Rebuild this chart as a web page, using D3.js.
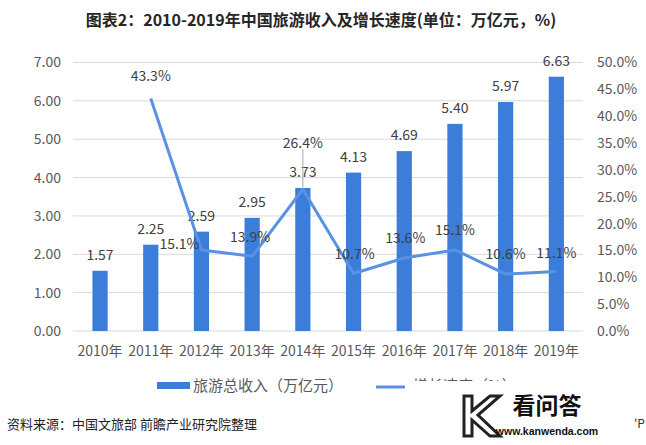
<!DOCTYPE html>
<html><head><meta charset="utf-8">
<script src="https://cdn.jsdelivr.net/npm/d3@7"></script>
<style>
html,body{margin:0;padding:0;background:#fff;}
svg{display:block;font-family:"Noto Sans CJK SC","Noto Sans",sans-serif;}
</style></head>
<body>
<svg id="chart" width="646" height="445"></svg>
<script>
const years = ["2010年","2011年","2012年","2013年","2014年","2015年","2016年","2017年","2018年","2019年"];
const revenue = [1.57,2.25,2.59,2.95,3.73,4.13,4.69,5.40,5.97,6.63];
const growth = [null,43.3,15.1,13.9,26.4,10.7,13.6,15.1,10.6,11.1];
const leftTicks = [0,1,2,3,4,5,6,7];
const rightTicks = [0,5,10,15,20,25,30,35,40,45,50];
const titleText = "图表2：2010-2019年中国旅游收入及增长速度(单位：万亿元，%)";
const legendLabels = ["旅游总收入（万亿元）","增长速度（%）"];
const sourceText = "资料来源：中国文旅部 前瞻产业研究院整理";
// label placement offsets (styling)
const growthLabelOffsets = [[0,0],[0,-22],[-22,-6],[-2,-19],[0,-46],[1,-20],[1,-20],[0,-20],[0,-20],[0,-18]];

const barColor = "#3b7dd8", lineColor = "#5a92e2", gridColor = "#d9d9d9";
const axisText = "#595959", labelText = "#404040";

const svg = d3.select("#chart");
const x = d3.scaleBand().domain(years).range([74.7,581.7]).paddingInner(0.7).paddingOuter(0.35);
const yL = d3.scaleLinear().domain([0,7]).range([331,62.5]);
const yR = d3.scaleLinear().domain([0,50]).range([331,62.5]);
const cx = d => x(d) + x.bandwidth()/2;

// title
svg.append("text").attr("x",321).attr("y",26).attr("text-anchor","middle")
  .attr("font-size",16).attr("font-weight","bold").attr("fill","#262626").text(titleText);

// grid
svg.append("g").selectAll("line").data(leftTicks).join("line")
  .attr("x1",73).attr("x2",583).attr("y1",d=>yL(d)).attr("y2",d=>yL(d))
  .attr("stroke",gridColor).attr("stroke-width",1);

// axes
const gl = svg.append("g").attr("transform","translate(73,0)")
  .call(d3.axisLeft(yL).tickValues(leftTicks).tickSize(0).tickPadding(12).tickFormat(d3.format(".2f")));
const gr = svg.append("g").attr("transform","translate(583,0)")
  .call(d3.axisRight(yR).tickValues(rightTicks).tickSize(0).tickPadding(14).tickFormat(d=>d.toFixed(1)+"%"));
const gb = svg.append("g").attr("transform","translate(0,331)")
  .call(d3.axisBottom(x).tickSize(0).tickPadding(15));
[gl,gr,gb].forEach(g=>{
  g.select(".domain").remove();
  g.selectAll("text").attr("font-size",14).attr("fill",axisText)
   .attr("font-family","'Noto Sans CJK SC','Noto Sans',sans-serif");
});

// bars
svg.append("g").selectAll("rect").data(revenue).join("rect")
  .attr("x",(d,i)=>x(years[i])).attr("width",x.bandwidth())
  .attr("y",d=>yL(d)).attr("height",d=>yL(0)-yL(d)).attr("fill",barColor);

// bar labels
svg.append("g").selectAll("text").data(revenue).join("text")
  .attr("x",(d,i)=>cx(years[i])).attr("y",d=>yL(d)-11)
  .attr("text-anchor","middle").attr("font-size",14).attr("fill",labelText)
  .text(d=>d.toFixed(2));

// line
const pts = growth.map((g,i)=>({g,i})).filter(p=>p.g!==null);
svg.append("path").datum(pts)
  .attr("d",d3.line().x(p=>cx(years[p.i])).y(p=>yR(p.g)))
  .attr("fill","none").attr("stroke",lineColor).attr("stroke-width",3).attr("stroke-linejoin","round");

// leader line for 2014
const li = 4;
svg.append("line").attr("x1",cx(years[li])).attr("x2",cx(years[li]))
  .attr("y1",yR(growth[li])+growthLabelOffsets[li][1]+6).attr("y2",yR(growth[li])-2)
  .attr("stroke","#a6a6a6").attr("stroke-width",1);

// growth labels
svg.append("g").selectAll("text").data(pts).join("text")
  .attr("x",p=>cx(years[p.i])+growthLabelOffsets[p.i][0])
  .attr("y",p=>yR(p.g)+growthLabelOffsets[p.i][1]+5)
  .attr("text-anchor","middle").attr("font-size",14).attr("fill",labelText)
  .text(p=>p.g.toFixed(1)+"%");

// legend
svg.append("rect").attr("x",157).attr("y",382).attr("width",33).attr("height",7).attr("fill",barColor);
svg.append("text").attr("x",193).attr("y",391).attr("font-size",15).attr("fill",axisText).text(legendLabels[0]);
svg.append("line").attr("x1",376).attr("x2",405).attr("y1",387).attr("y2",387).attr("stroke",lineColor).attr("stroke-width",3);
svg.append("text").attr("x",413).attr("y",391).attr("font-size",15).attr("fill",axisText).text(legendLabels[1]);

// watermark box (kanwenda logo)
svg.append("rect").attr("x",409).attr("y",381).attr("width",205).attr("height",64).attr("fill","#fff");
const k = svg.append("g").attr("fill","none").attr("stroke","#222").attr("stroke-width",3);
k.append("path").attr("d","M464,396 L472,396 L472,411 L490,396 L500,396 L478,415 L500,436 L490,436 L472,420 L472,436 L464,436 Z");
svg.append("text").attr("x",547).attr("y",414).attr("text-anchor","middle").attr("font-size",23)
  .attr("font-weight","bold").attr("fill","#111").text("看问答");
svg.append("text").attr("x",547).attr("y",435).attr("text-anchor","middle").attr("font-size",10.5)
  .attr("font-weight","bold").attr("fill","#111").attr("font-family","'Liberation Sans',Arial,sans-serif").text("www.kanwenda.com");
svg.append("text").attr("x",634).attr("y",428).attr("font-size",12).attr("fill","#333").text("'P");

// source
svg.append("text").attr("x",7).attr("y",429).attr("font-size",13).attr("fill","#222").text(sourceText);
</script>
</body></html>
